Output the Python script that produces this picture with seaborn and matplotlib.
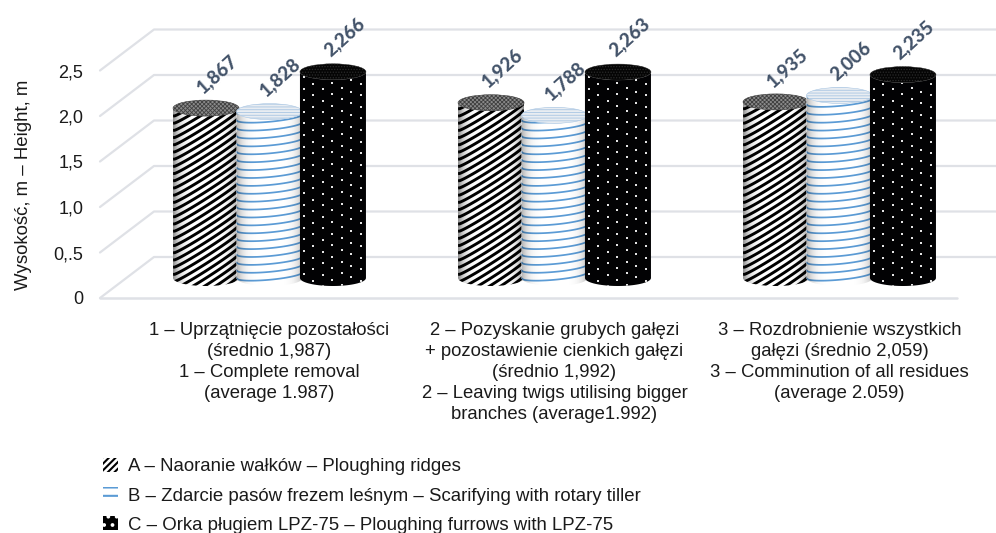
"""3D-style cylinder chart of height by residue treatment, seaborn bars with drawn textures."""

import matplotlib

matplotlib.use("Agg")
import matplotlib.pyplot as plt
import numpy as np
import pandas as pd
import seaborn as sns
from matplotlib.patches import Ellipse, Patch, PathPatch
from matplotlib.path import Path

groups = [
    "1 – Uprzątnięcie pozostałości\n(średnio 1,987)\n1 – Complete removal\n(average 1.987)",
    "2 – Pozyskanie grubych gałęzi\n+ pozostawienie cienkich gałęzi\n(średnio 1,992)\n2 – Leaving twigs utilising bigger\nbranches (average1.992)",
    "3 – Rozdrobnienie wszystkich\ngałęzi (średnio 2,059)\n3 – Comminution of all residues\n(average 2.059)",
]
series = [
    "A – Naoranie wałków – Ploughing ridges",
    "B – Zdarcie pasów frezem leśnym – Scarifying with rotary tiller",
    "C – Orka pługiem LPZ-75 – Ploughing furrows with LPZ-75",
]
values_a = [1.867, 1.926, 1.935]
values_b = [1.828, 1.788, 2.006]
values_c = [2.266, 2.263, 2.235]
value_labels_a = ["1,867", "1,926", "1,935"]
value_labels_b = ["1,828", "1,788", "2,006"]
value_labels_c = ["2,266", "2,263", "2,235"]
tick_values = [0, 0.5, 1.0, 1.5, 2.0, 2.5]
tick_labels = ["0", "0,.5", "1,0", "1,5", "2,0", "2,5"]

PX_W, PX_H = 996, 533
PX_PER_UNIT = 91.0
PX_PER_CAT = 285.0
Y0_PX = 278.0  # pixel row of value 0 at the bar centres
CAT0_PX = 269.5
AX_LEFT, AX_RIGHT, AX_TOP, AX_BOTTOM = 100, 996, 18, 298
GRID = "#dfe1e6"
LABEL = "#44546a"
TEXT = "#1a1a1a"


def cylinder_path(x0, x1, top, rx_y):
    xc, rx = (x0 + x1) / 2, (x1 - x0) / 2
    t = np.linspace(np.pi, 2 * np.pi, 40)
    bottom = np.column_stack([xc + rx * np.cos(t), rx_y * np.sin(t)])
    upper = np.column_stack([xc + rx * np.cos(t[::-1]), top + rx_y * np.sin(t[::-1])])
    pts = np.vstack([bottom, [[x1, top]], upper, [[x0, top]], bottom[:1]])
    return Path(pts)


def add_shade(ax, x0, x1, top, rx_y, clip, z, strength):
    # darker towards both edges of the cylinder, as the round look of the original
    t = np.linspace(-1, 1, 80)
    img = np.zeros((1, t.size, 4))
    img[..., 3] = strength * np.abs(t) ** 5
    im = ax.imshow(img, extent=(x0, x1, -rx_y, top + rx_y), aspect="auto", zorder=z, interpolation="bilinear")
    im.set_clip_path(clip)


def draw_stripes(ax, x0, x1, top, rx_y, clip, z):
    t = np.linspace(-1, 1, 40)
    x = (x0 + x1) / 2 + t * (x1 - x0) / 2
    for c in np.arange(-0.6, top + 0.6, 7.2 / PX_PER_UNIT):
        y = c + t * 21 / PX_PER_UNIT - np.sqrt(1 - t**2) * 3 / PX_PER_UNIT
        line, = ax.plot(x, y, color="black", lw=2.1, zorder=z, solid_capstyle="butt")
        line.set_clip_path(clip)


def draw_rings(ax, x0, x1, top, rx_y, clip, z):
    t = np.linspace(-1, 1, 40)
    x = (x0 + x1) / 2 + t * (x1 - x0) / 2
    for c in np.arange(0.03, top + 0.08, 7.9 / PX_PER_UNIT):
        y = c - np.sqrt(1 - t**2) * 4.5 / PX_PER_UNIT + t * 3 / PX_PER_UNIT
        line, = ax.plot(x, y, color="#5b9bd5", lw=1.25, zorder=z)
        line.set_clip_path(clip)


def draw_dots(ax, x0, x1, top, rx_y, clip, z, color="#e4e4e4", size=1.8):
    xc, rx = (x0 + x1) / 2, (x1 - x0) / 2
    step_x = 19.0 / PX_PER_CAT
    step_y = 5.8 / PX_PER_UNIT
    for row, c in enumerate(np.arange(-0.03, top + 0.06, step_y)):
        xs = np.arange(x0 + step_x * (0.2 + 0.5 * (row % 2)), x1, step_x)
        t = np.clip((xs - xc) / rx, -1, 1)
        ys = c - np.sqrt(1 - t**2) * 5 / PX_PER_UNIT + t * 3 / PX_PER_UNIT
        dots = ax.scatter(xs, ys, s=size, marker="s", color=color, linewidths=0, zorder=z)
        dots.set_clip_path(clip)


sns.set_theme(style="white", rc={"font.family": ["Liberation Sans", "DejaVu Sans"]})
plt.rcParams["hatch.linewidth"] = 0.6

df = pd.DataFrame(
    {
        "group": np.repeat(groups, 3),
        "series": series * 3,
        "value": [v for trio in zip(values_a, values_b, values_c) for v in trio],
    }
)

fig = plt.figure(figsize=(PX_W / 100, PX_H / 100), dpi=100, facecolor="white")
ax = fig.add_axes(
    [
        AX_LEFT / PX_W,
        1 - AX_BOTTOM / PX_H,
        (AX_RIGHT - AX_LEFT) / PX_W,
        (AX_BOTTOM - AX_TOP) / PX_H,
    ]
)
sns.barplot(
    data=df,
    x="group",
    y="value",
    hue="series",
    order=groups,
    hue_order=series,
    width=0.668,
    gap=-0.04,
    dodge=True,
    legend=False,
    errorbar=None,
    ax=ax,
)

xlim = ((AX_LEFT - CAT0_PX) / PX_PER_CAT, (AX_RIGHT - CAT0_PX) / PX_PER_CAT)
ylim = ((Y0_PX - AX_BOTTOM) / PX_PER_UNIT, (Y0_PX - AX_TOP) / PX_PER_UNIT)
back_rise = (Y0_PX - 257.0) / PX_PER_UNIT
front_drop = (AX_BOTTOM - Y0_PX) / PX_PER_UNIT
back_x = xlim[0] + 54 / PX_PER_CAT
front_end = xlim[0] + 857 / PX_PER_CAT

# wall and floor lines
for v in tick_values:
    ax.plot([xlim[0], back_x, xlim[1]], [v - front_drop, v + back_rise, v + back_rise], color=GRID, lw=1.6, zorder=1, clip_on=False)
ax.plot([xlim[0], front_end], [-front_drop, -front_drop], color=GRID, lw=1.8, zorder=1, clip_on=False)

all_labels = [value_labels_a, value_labels_b, value_labels_c]
cap_ry = 8.0 / PX_PER_UNIT
for s, container in enumerate(ax.containers):
    for g, bar in enumerate(container):
        bar.set_alpha(0)
        x0, x1, top = bar.get_x(), bar.get_x() + bar.get_width(), bar.get_height()
        xc = (x0 + x1) / 2
        z = 3 + s * 5
        base = ["white", "white", "#020204"][s]
        body = PathPatch(cylinder_path(x0, x1, top, cap_ry), facecolor=base, edgecolor="none", zorder=z)
        ax.add_patch(body)
        if s == 0:
            draw_stripes(ax, x0, x1, top, cap_ry, body, z + 0.5)
            add_shade(ax, x0, x1, top, cap_ry, body, z + 1, 0.45)
            cap = Ellipse((xc, top), x1 - x0, 2 * cap_ry, facecolor="#8a8a8a", edgecolor="#404040", lw=0.4, hatch="xxxxxxxx", zorder=z + 2)
        elif s == 1:
            draw_rings(ax, x0, x1, top, cap_ry, body, z + 0.5)
            add_shade(ax, x0, x1, top, cap_ry, body, z + 1, 0.28)
            cap = Ellipse((xc, top), x1 - x0, 2 * cap_ry, facecolor="#e9edf2", edgecolor="#a9c6e3", lw=0.4, hatch="------", zorder=z + 2)
        else:
            draw_dots(ax, x0, x1, top, cap_ry, body, z + 0.5)
            cap = Ellipse((xc, top), x1 - x0, 2 * cap_ry, facecolor="#050505", edgecolor="#2a2a2a", lw=0.3, hatch="......", zorder=z + 2)
        ax.add_patch(cap)
        ax.annotate(
            all_labels[s][g],
            xy=(xc, top),
            xytext=(8, 25),
            textcoords="offset points",
            ha="center",
            va="center",
            rotation=42,
            rotation_mode="anchor",
            color=LABEL,
            fontsize=13.5,
            fontweight=900,
            family="Lato",
            zorder=40,
            annotation_clip=False,
        )

ax.set_xlim(xlim)
ax.set_ylim(ylim)
ax.set_yticks([v - front_drop for v in tick_values])
ax.set_yticklabels(tick_labels, fontsize=13, color=TEXT)
ax.set_xticks(range(len(groups)))
ax.set_xticklabels(groups, fontsize=13.3, color=TEXT, linespacing=1.32)
ax.tick_params(axis="both", length=0)
ax.tick_params(axis="x", pad=17)
ax.tick_params(axis="y", pad=12)
ax.set_xlabel("")
ax.set_ylabel("Wysokość, m – Height, m", fontsize=13.4, color=TEXT)
ax.yaxis.set_label_coords(-(AX_LEFT - 32) / (AX_RIGHT - AX_LEFT), 0.405)
sns.despine(ax=ax, left=True, bottom=True)
ax.patch.set_alpha(0)

plt.rcParams["hatch.linewidth"] = 1.5
handles = [
    Patch(facecolor="white", edgecolor="black", hatch="/////", lw=0),
    Patch(facecolor="white", edgecolor="#5b9bd5", hatch="--", lw=0),
    Patch(facecolor="black", edgecolor="white", hatch="..", lw=0),
]
fig.legend(
    handles,
    series,
    loc="upper left",
    bbox_to_anchor=(88 / PX_W, 1 - 443 / PX_H),
    frameon=False,
    fontsize=13.4,
    labelcolor=TEXT,
    handlelength=0.8,
    handleheight=0.8,
    handletextpad=0.54,
    labelspacing=0.62,
    borderpad=0.3,
)

fig.savefig("out.png", dpi=100)
plt.close(fig)
